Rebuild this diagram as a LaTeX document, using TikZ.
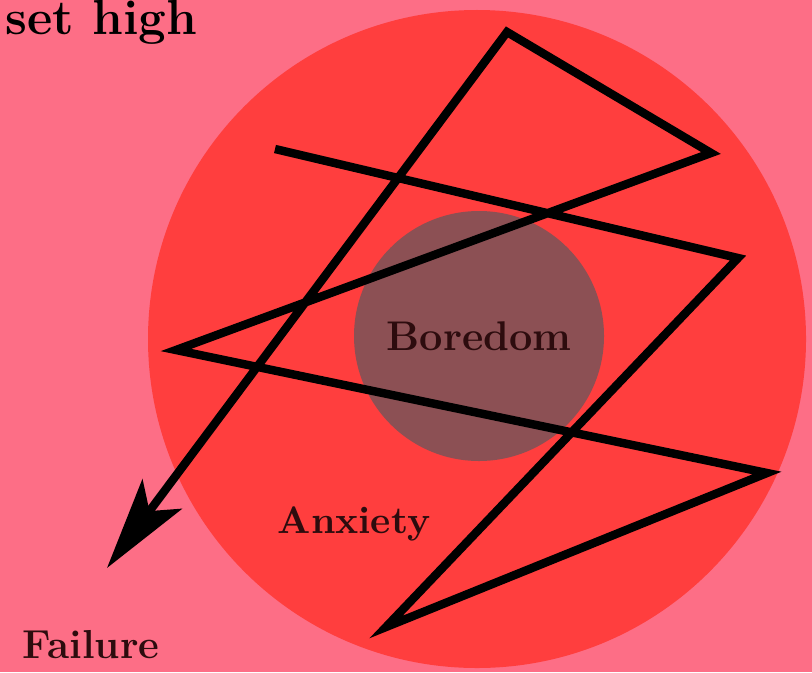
\documentclass[tikz,border=0pt]{standalone}
\usepackage{tikz}
\usetikzlibrary{arrows.meta}
\definecolor{bgpink}{RGB}{253,110,134}
\definecolor{anxred}{RGB}{255,62,62}
\definecolor{borebrown}{RGB}{140,80,84}
\definecolor{labeldark}{RGB}{45,12,14}

\begin{document}
\begin{tikzpicture}
  \tikzset{word/.style={font=\bfseries, text=labeldark, inner sep=0},
    zigzag/.style={line width=2.4pt, line join=miter,
      -{Stealth[length=9.2mm, width=4.9mm, inset=2.1mm]}}}
  \useasboundingbox (0,0) rectangle (8.12,6.72);
  \clip (0,0) rectangle (8.12,6.72);
  \fill[bgpink] (0,0) rectangle (8.12,6.72);
  \node(anx) [circle, fill=anxred, minimum size=6.58cm, inner sep=0] at (4.77,3.33) {};
  \node(bore) [circle, fill=borebrown, minimum size=2.5cm, inner sep=0,
    word, font=\fontsize{11.8}{13}\selectfont\bfseries] at (4.79,3.36) {Boredom};
  \node(anxtext) [word, anchor=base, font=\fontsize{10.9}{13}\selectfont\bfseries] at (3.54,1.39) {Anxiety};
  \node(fail) [word, anchor=base west, font=\fontsize{11.5}{13}\selectfont\bfseries] at (0.22,0.14) {Failure};
  \node(goal) [word, text=black, anchor=base west, font=\fontsize{14}{16}\selectfont\bfseries] at (0.05,6.37) {set high};
  \coordinate (z0) at (2.75,5.23);
  \coordinate (z1) at (7.38,4.14);
  \coordinate (z2) at (3.86,0.45);
  \coordinate (z3) at (7.67,1.99);
  \coordinate (z4) at (1.76,3.22);
  \coordinate (z5) at (7.11,5.19);
  \coordinate (z6) at (5.07,6.40);
  \coordinate (tip) at (1.07,1.04);
  \draw [zigzag] (z0) -- (z1) -- (z2) -- (z3) -- (z4) -- (z5) -- (z6) -- (tip);
\end{tikzpicture}
\end{document}
